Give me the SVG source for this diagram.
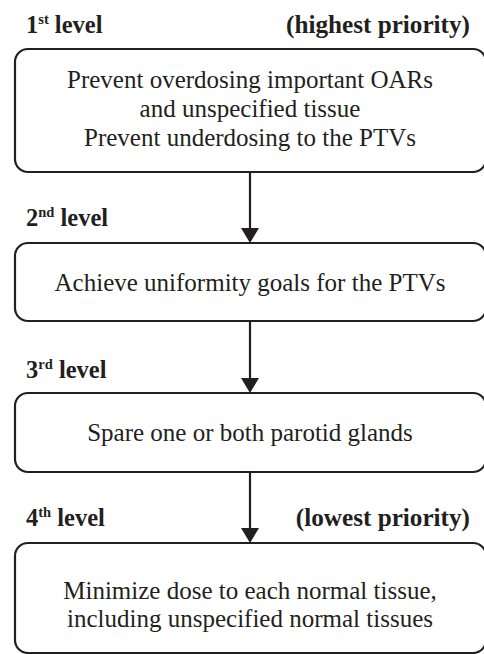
<svg xmlns="http://www.w3.org/2000/svg" width="484" height="654" viewBox="0 0 484 654">
<style>
.box{fill:#fff;stroke:#231f20;stroke-width:2.2}
.t{font-family:'Liberation Serif','Times New Roman',Times,serif;font-size:25px;fill:#231f20;text-anchor:middle}
.lbl{font-family:'Liberation Serif','Times New Roman',Times,serif;font-size:24.5px;font-weight:bold;fill:#231f20}
.sup{font-size:14.5px}
.con line{stroke:#231f20;stroke-width:2.2}
.con polygon{fill:#231f20}
</style>
<rect width="484" height="654" fill="#fff"/>
<g id="labels">
<text class="lbl" x="26" y="33">1<tspan class="sup" dy="-9">st</tspan><tspan dy="9"> level</tspan></text>
<text class="lbl" x="470" y="33" text-anchor="end" style="font-size:25.2px">(highest priority)</text>
<text class="lbl" x="26" y="226">2<tspan class="sup" dy="-9">nd</tspan><tspan dy="9"> level</tspan></text>
<text class="lbl" x="26" y="378">3<tspan class="sup" dy="-9">rd</tspan><tspan dy="9"> level</tspan></text>
<text class="lbl" x="26" y="526">4<tspan class="sup" dy="-9">th</tspan><tspan dy="9"> level</tspan></text>
<text class="lbl" x="470" y="526" text-anchor="end" style="font-size:25.2px">(lowest priority)</text>
</g>
<g id="connectors" class="con">
<line x1="250" y1="172" x2="250" y2="230"/>
<polygon points="241,228 259,228 250,243"/>
<line x1="250" y1="321" x2="250" y2="380"/>
<polygon points="241,378 259,378 250,393"/>
<line x1="250" y1="472" x2="250" y2="530"/>
<polygon points="241,528 259,528 250,543"/>
</g>
<g id="node1">
<rect class="box" x="15" y="49" width="471" height="123" rx="13"/>
<text class="t" x="250" y="88">Prevent overdosing important OARs</text>
<text class="t" x="250" y="117">and unspecified tissue</text>
<text class="t" x="250" y="146">Prevent underdosing to the PTVs</text>
</g>
<g id="node2">
<rect class="box" x="15" y="243" width="471" height="78" rx="13"/>
<text class="t" x="250" y="291">Achieve uniformity goals for the PTVs</text>
</g>
<g id="node3">
<rect class="box" x="15" y="393" width="471" height="79" rx="13"/>
<text class="t" x="250" y="441">Spare one or both parotid glands</text>
</g>
<g id="node4">
<rect class="box" x="15" y="543" width="471" height="110" rx="13"/>
<text class="t" x="250" y="599">Minimize dose to each normal tissue,</text>
<text class="t" x="250" y="627">including unspecified normal tissues</text>
</g>
</svg>
